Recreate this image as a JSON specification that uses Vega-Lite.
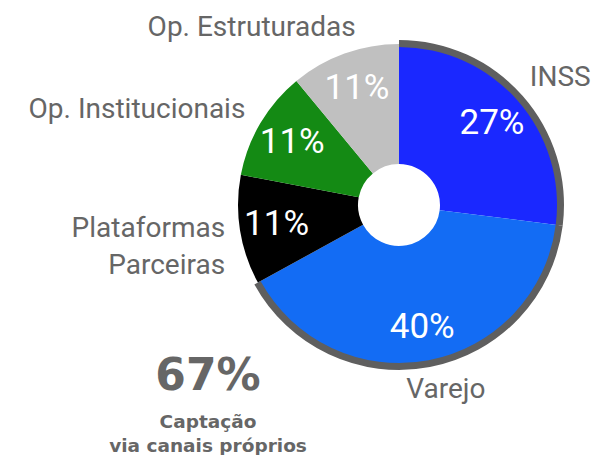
{
  "$schema": "https://vega.github.io/schema/vega-lite/v6.json",
  "width": 390,
  "height": 410,
  "autosize": "none",
  "padding": {"left": 204, "top": 0, "right": 0, "bottom": 45},
  "background": "white",
  "config": {"view": {"stroke": null}},
  "data": {
    "values": [
      {"cat": "INSS", "share": 0.27, "ord": 1, "group": "proprio"},
      {"cat": "Varejo", "share": 0.40, "ord": 2, "group": "proprio"},
      {"cat": "Plataformas Parceiras", "share": 0.11, "ord": 3, "group": "outro"},
      {"cat": "Op. Institucionais", "share": 0.11, "ord": 4, "group": "outro"},
      {"cat": "Op. Estruturadas", "share": 0.11, "ord": 5, "group": "outro"}
    ]
  },
  "encoding": {
    "theta": {"field": "share", "type": "quantitative", "stack": true},
    "order": {"field": "ord", "type": "quantitative"}
  },
  "layer": [
    {
      "mark": {"type": "arc", "innerRadius": 41, "outerRadius": 161},
      "encoding": {
        "color": {
          "field": "cat", "type": "nominal", "legend": null,
          "scale": {
            "domain": ["INSS", "Varejo", "Plataformas Parceiras", "Op. Institucionais", "Op. Estruturadas"],
            "range": ["#1a28ff", "#136cf4", "#000000", "#148a14", "#c0c0c0"]
          }
        }
      }
    },
    {
      "mark": {"type": "arc", "innerRadius": 158, "outerRadius": 165, "color": "#5f5f5f"},
      "encoding": {
        "opacity": {"condition": {"test": "datum.group === 'proprio'", "value": 1}, "value": 0}
      }
    },
    {
      "mark": {"type": "text", "radius": 124, "font": "Roboto", "fontSize": 35, "color": "white", "align": "center", "baseline": "middle"},
      "encoding": {"text": {"field": "share", "type": "quantitative", "format": ".0%"}}
    },
    {
      "mark": {"type": "text", "radius": 207, "font": "Roboto", "fontSize": 28, "color": "#666666", "align": "center", "baseline": "middle", "dx": 6, "dy": 10},
      "encoding": {
        "text": {"field": "cat"},
        "opacity": {"condition": {"test": "datum.cat === 'INSS'", "value": 1}, "value": 0}
      }
    },
    {
      "mark": {"type": "text", "radius": 186, "font": "Roboto", "fontSize": 28, "color": "#666666", "align": "center", "baseline": "middle", "dx": 12, "dy": 2},
      "encoding": {
        "text": {"field": "cat"},
        "opacity": {"condition": {"test": "datum.cat === 'Varejo'", "value": 1}, "value": 0}
      }
    },
    {
      "mark": {"type": "text", "radius": 175, "font": "Roboto", "fontSize": 28, "color": "#666666", "align": "right", "baseline": "middle", "dx": -1, "dy": -3, "lineBreak": " ", "lineHeight": 37},
      "encoding": {
        "text": {"field": "cat"},
        "opacity": {"condition": {"test": "datum.cat === 'Plataformas Parceiras'", "value": 1}, "value": 0}
      }
    },
    {
      "mark": {"type": "text", "radius": 175, "font": "Roboto", "fontSize": 28, "color": "#666666", "align": "right", "baseline": "middle", "dx": -3, "dy": -6},
      "encoding": {
        "text": {"field": "cat"},
        "opacity": {"condition": {"test": "datum.cat === 'Op. Institucionais'", "value": 1}, "value": 0}
      }
    },
    {
      "mark": {"type": "text", "radius": 190, "font": "Roboto", "fontSize": 28, "color": "#666666", "align": "right", "baseline": "middle", "dx": 21, "dy": 2},
      "encoding": {
        "text": {"field": "cat"},
        "opacity": {"condition": {"test": "datum.cat === 'Op. Estruturadas'", "value": 1}, "value": 0}
      }
    }
  ],
  "title": {
    "text": "67%",
    "subtitle": ["Captação", "via canais próprios"],
    "orient": "bottom",
    "anchor": "start",
    "frame": "group",
    "align": "center",
    "dx": 4,
    "offset": -77,
    "font": "DejaVu Sans",
    "fontSize": 44,
    "fontWeight": "bold",
    "color": "#666666",
    "subtitleFont": "DejaVu Sans",
    "subtitleFontSize": 18.5,
    "subtitleFontWeight": "bold",
    "subtitleColor": "#666666",
    "subtitleLineHeight": 24,
    "subtitlePadding": 14
  }
}
